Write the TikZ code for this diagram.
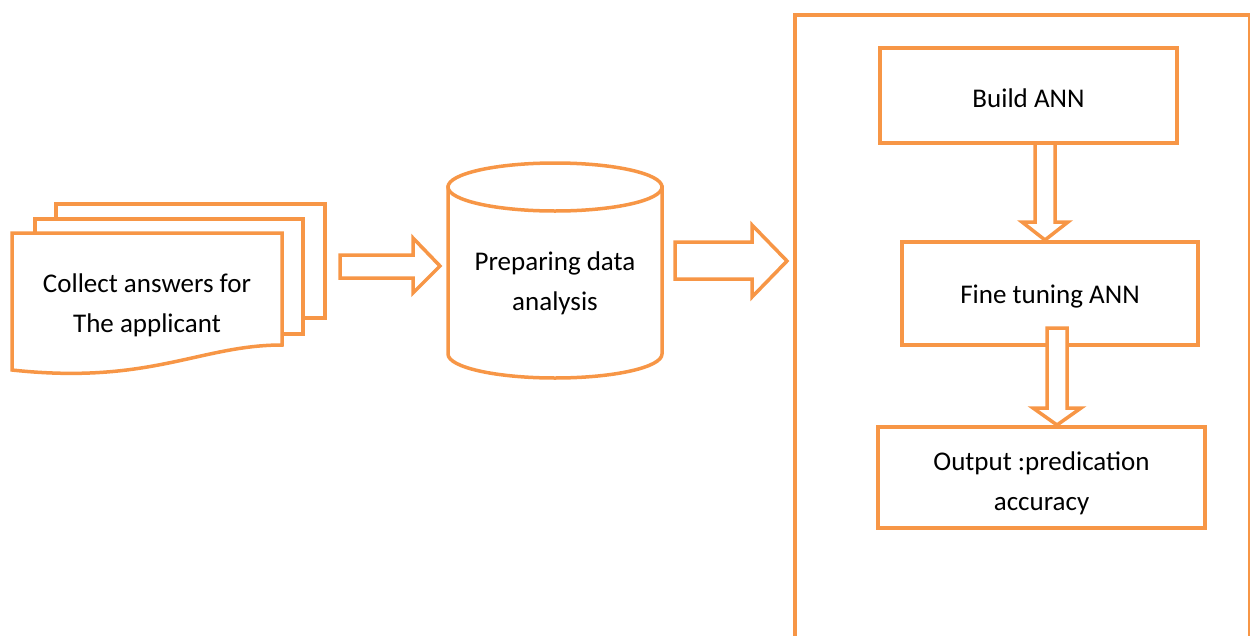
\documentclass[tikz,border=0pt]{standalone}
\usepackage{fontspec}
\setmainfont{Carlito}
\definecolor{orange6}{HTML}{F79646}
\newcommand\labelfont{\fontsize{27}{40}\selectfont}
\begin{document}
\begin{tikzpicture}[x=1pt, y=-1pt, line width=3.5pt,
  accent/.style={draw=orange6, fill=white},
  box/.style={accent, rectangle, inner sep=0pt},
  label/.style={font=\labelfont, align=center, inner sep=0pt},
  blockarrow/.style={accent, line join=miter}]
\useasboundingbox (0,0) rectangle (1250,635);
\clip (0,0) rectangle (1250,635);

% outer frame around the ANN stage
\node[draw=orange6, minimum width=455pt, minimum height=700pt, anchor=north west, inner sep=0pt] (frame) at (793,13) {};

% stacked documents
\draw[accent] (56,204) rectangle (325,318);
\draw[accent] (35,219) rectangle (303,334);
\draw[accent] (12,233) -- (282,233) -- (282,345)
  .. controls (200,345) and (150,385) .. (12,370) -- cycle;
\node[label] (collect) at (147,305) {Collect answers for\\The applicant};

% database cylinder
\draw[accent] (448,187) -- (448,354)
  arc[start angle=180, end angle=0, x radius=107, y radius=24] -- (662,187) -- cycle;
\draw[accent] (555,187) ellipse [x radius=107, y radius=24];
\node[label] (prep) at (555,283.5) {Preparing data\\analysis};

% horizontal block arrows
\draw[blockarrow] (340,255) -- (413,255) -- (413,238) -- (440,266) -- (413,293)
  -- (413,278) -- (340,278) -- cycle;
\draw[blockarrow] (675,242) -- (752,242) -- (752,225) -- (787,261) -- (752,297)
  -- (752,279) -- (675,279) -- cycle;

% ANN steps
\draw[blockarrow] (1035,143) -- (1035,222) -- (1022,222) -- (1045,240) -- (1068,222)
  -- (1055,222) -- (1055,143) -- cycle;
\node[box, minimum width=297pt, minimum height=95pt] (build) at (1028.5,95.5) {};
\node[label] (buildtext) at ([yshift=-3pt]build.center) {Build ANN};
\node[box, minimum width=296pt, minimum height=103pt] (tune) at (1050,293.5) {};
\node[label] (tunetext) at ([yshift=-3pt]tune.center) {Fine tuning ANN};
\draw[blockarrow] (1047,328) -- (1047,408) -- (1033,408) -- (1057,425) -- (1081,408)
  -- (1067,408) -- (1067,328) -- cycle;
\node[box, minimum width=327pt, minimum height=101pt] (out) at (1041.5,477.5) {};
\node[label] (outtext) at ([yshift=-6pt]out.center) {Output :predication\\accuracy};
\end{tikzpicture}
\end{document}
